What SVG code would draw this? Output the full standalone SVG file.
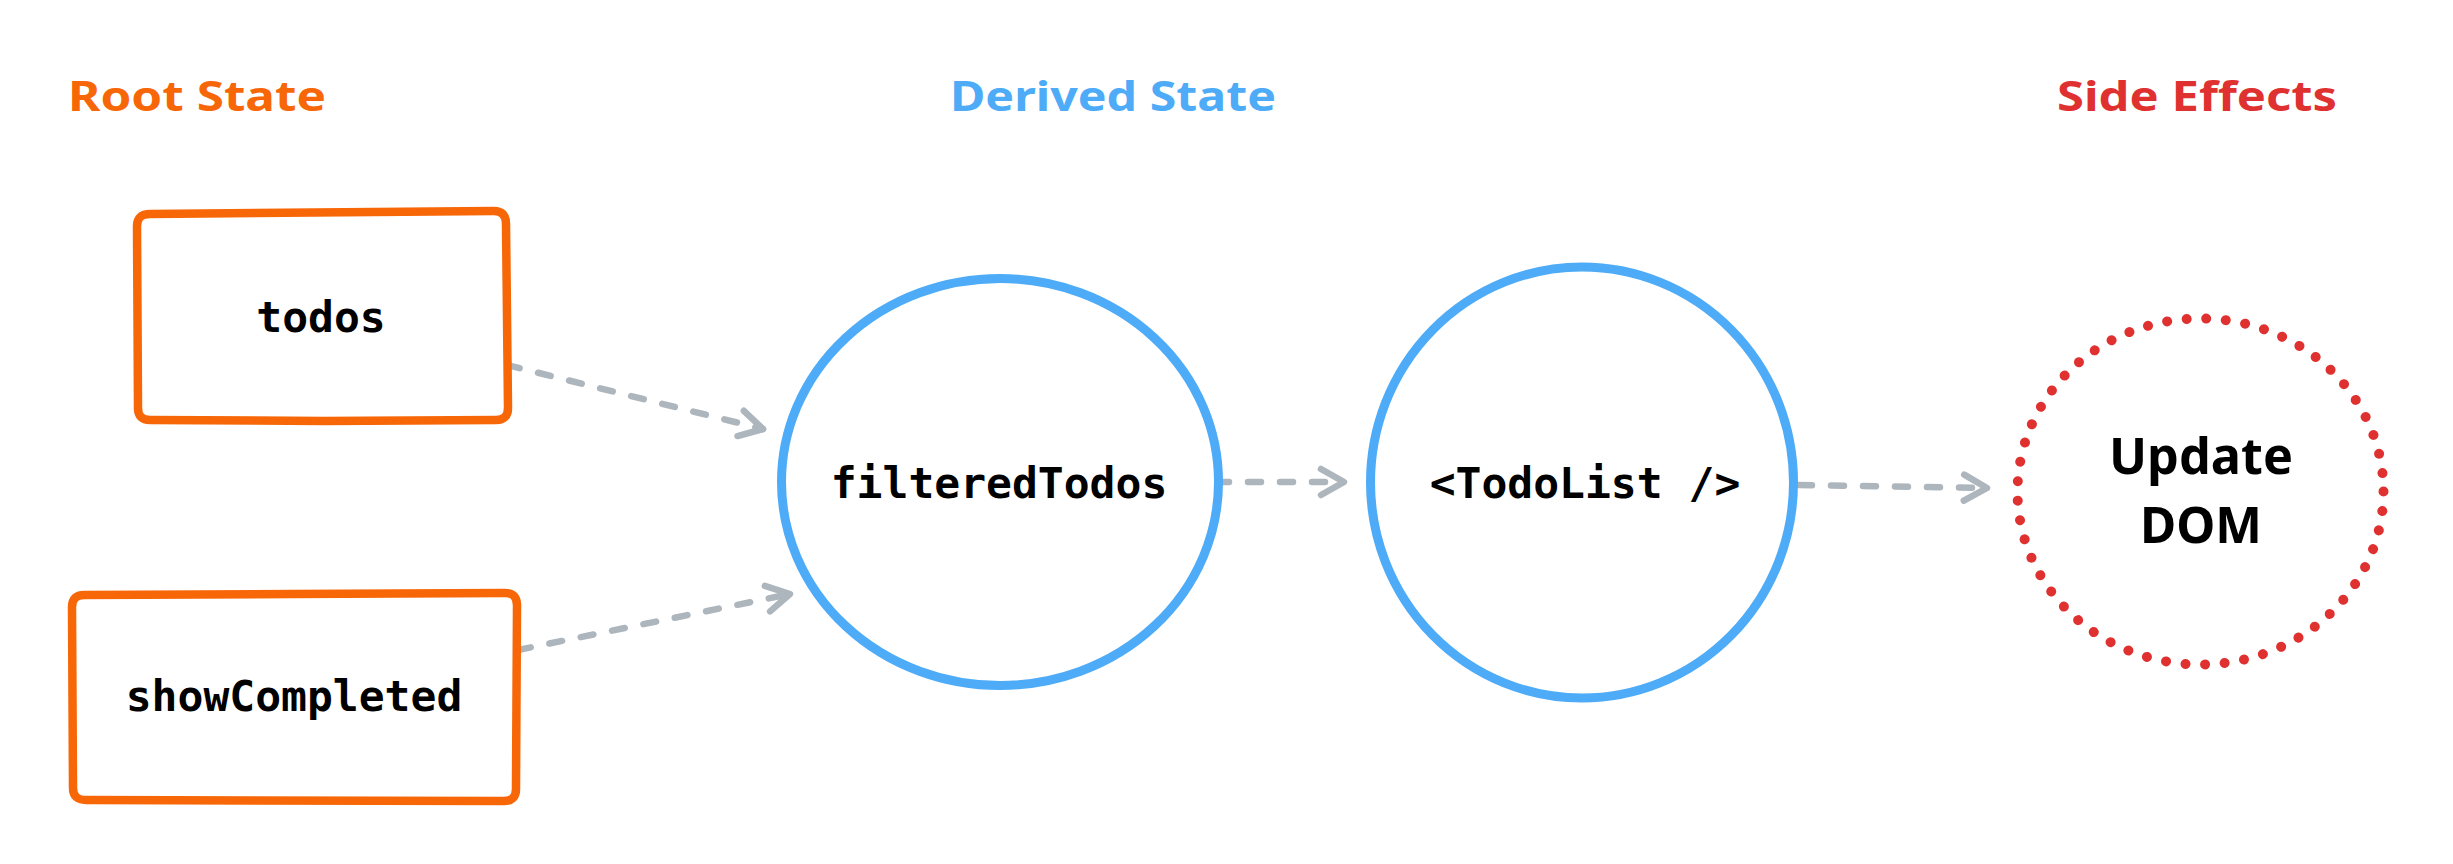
<svg xmlns="http://www.w3.org/2000/svg" width="2453" height="864" viewBox="0 0 2453 864">
  <style>
    .bg { fill: #ffffff; }
    .heading { font-family: "Noto Sans", "Liberation Sans", sans-serif; font-weight: 700; font-size: 42px; text-anchor: middle; }
    .hand { font-family: "Noto Sans", "Liberation Sans", sans-serif; font-weight: 700; font-size: 50px; fill: #000000; text-anchor: middle; }
    .code { font-family: "DejaVu Sans Mono", "Liberation Mono", monospace; font-weight: 700; font-size: 43px; fill: #000000; text-anchor: middle; }
    .box { fill: #ffffff; stroke: #f76707; stroke-width: 8.5; stroke-linejoin: round; stroke-linecap: round; }
    .derived { fill: #ffffff; stroke: #4dabf7; stroke-width: 9; }
    .effect { fill: #ffffff; stroke: #e03131; stroke-width: 10; stroke-linecap: round; stroke-dasharray: 0.001 1; }
    .conn { fill: none; stroke: #adb5bd; stroke-width: 6.5; stroke-linecap: round; stroke-dasharray: 13 19; }
  </style>
  <defs>
    <marker id="head" viewBox="-34 -20 40 40" refX="0" refY="0" markerWidth="40" markerHeight="40" markerUnits="userSpaceOnUse" orient="auto">
      <path d="M -23 -13 L 0 0 L -23 13" fill="none" stroke="#adb5bd" stroke-width="6.5" stroke-linecap="round" stroke-linejoin="round" stroke-dasharray="none"/>
    </marker>
  </defs>
  <rect class="bg" x="0" y="0" width="2453" height="864"/>

  <g id="headings">
    <text class="heading" x="197" y="111" fill="#f76707" textLength="258" lengthAdjust="spacingAndGlyphs">Root State</text>
    <text class="heading" x="1113" y="111" fill="#4dabf7" textLength="326" lengthAdjust="spacingAndGlyphs">Derived State</text>
    <text class="heading" x="2197" y="111" fill="#e03131" textLength="280" lengthAdjust="spacingAndGlyphs">Side Effects</text>
  </g>

  <g id="connectors">
    <line class="conn" x1="507" y1="365" x2="763" y2="429" marker-end="url(#head)"/>
    <line class="conn" x1="518" y1="650" x2="790" y2="594" marker-end="url(#head)"/>
    <line class="conn" x1="1216" y1="482" x2="1344" y2="482" marker-end="url(#head)"/>
    <line class="conn" x1="1799" y1="485" x2="1987" y2="488" marker-end="url(#head)"/>
  </g>

  <g id="node-todos">
    <path class="box" d="M 150 214 L 494 211 Q 506 211 506 224 L 508 408 Q 508 420 496 420 L 324 421 L 150 420 Q 138 420 138 408 L 137 226 Q 137 214 150 214 Z"/>
    <text class="code" x="321" y="332">todos</text>
  </g>

  <g id="node-showCompleted">
    <path class="box" d="M 84 595 L 293 594 L 505 593 Q 517 593 517 605 L 516 789 Q 516 801 504 801 L 86 800 Q 73 800 73 788 L 72 607 Q 72 595 84 595 Z"/>
    <text class="code" x="294" y="711">showCompleted</text>
  </g>

  <g id="node-filteredTodos">
    <ellipse class="derived" cx="1000" cy="482" rx="218.5" ry="203.5"/>
    <text class="code" x="999" y="498">filteredTodos</text>
  </g>

  <g id="node-TodoList">
    <ellipse class="derived" cx="1582" cy="482.5" rx="211.5" ry="215.5"/>
    <text class="code" x="1585" y="498">&lt;TodoList /&gt;</text>
  </g>

  <g id="node-updateDOM">
    <ellipse class="effect" cx="2200.5" cy="491.5" rx="183" ry="173" pathLength="57"/>
    <text class="hand" x="2201" y="474" textLength="184" lengthAdjust="spacingAndGlyphs">Update</text>
    <text class="hand" x="2201" y="543" textLength="122" lengthAdjust="spacingAndGlyphs">DOM</text>
  </g>
</svg>
